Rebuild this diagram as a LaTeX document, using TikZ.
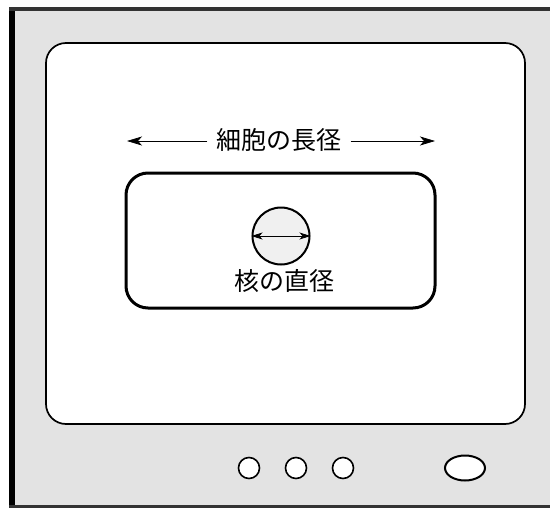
\documentclass[tikz,border=0pt]{standalone}
\usepackage{fontspec}
\newfontfamily\jp{Noto Sans CJK JP}
\usetikzlibrary{arrows.meta,shapes.geometric}
\tikzset{
  bezel/.style={fill=gray!22, draw=none},
  screenbox/.style={draw=black, line width=1.7pt, fill=white, rounded corners=20pt, minimum width=479pt, minimum height=381pt, inner sep=0pt},
  cellbox/.style={draw=black, line width=3pt, rounded corners=22pt, minimum width=309pt, minimum height=135pt, inner sep=0pt},
  nucleus/.style={circle, draw=black, line width=2pt, fill=gray!12, minimum size=57pt, inner sep=0pt},
  label/.style={font=\jp\fontsize{25}{30}\selectfont, inner sep=0pt},
  btn/.style={circle, draw=black, line width=1.6pt, fill=white, minimum size=21pt, inner sep=0pt},
  pwr/.style={ellipse, draw=black, line width=2pt, fill=white, minimum width=40pt, minimum height=25pt, inner sep=0pt},
  bigtip/.style={-{Stealth[length=15pt,width=9pt,inset=4pt]}},
  dimsmall/.style={line width=0.8pt, {Stealth[length=11pt,width=7pt,inset=3pt]}-{Stealth[length=11pt,width=7pt,inset=3pt]}},
}
\begin{document}
\begin{tikzpicture}[x=1pt,y=-1pt]
\useasboundingbox (0,0) rectangle (550,509);
% bezel
\fill[bezel] (9,7) rectangle (550,507);
\draw[line width=6pt, black] (12,7) -- (12,508);
\draw[line width=4pt, black!80] (9,9) -- (550,9);
\draw[line width=3pt, black!80] (9,506.5) -- (550,506.5);
% screen
\node[screenbox] (screen) at (285.5,233.5) {};
% cell
\node[cellbox] (cell) at (280.5,240.5) {};
% nucleus
\node[nucleus] (nuc) at (281,236) {};
\draw[dimsmall] (nuc.west) -- (nuc.east);
\node[label] (nlab) at (284,281) {核の直径};
% cell length
\node[label, inner xsep=9pt] (clab) at (279,140) {細胞の長径};
\coordinate (la) at (127,141);
\coordinate (ra) at (435,141);
\draw[line width=0.7pt, bigtip] (clab.west |- la) -- (la);
\draw[line width=0.7pt, bigtip] (clab.east |- ra) -- (ra);
% buttons
\node[btn] (b1) at (249,468) {};
\node[btn] (b2) at (296,468) {};
\node[btn] (b3) at (343,468) {};
\node[pwr] (pw) at (465,468) {};
\end{tikzpicture}
\end{document}
